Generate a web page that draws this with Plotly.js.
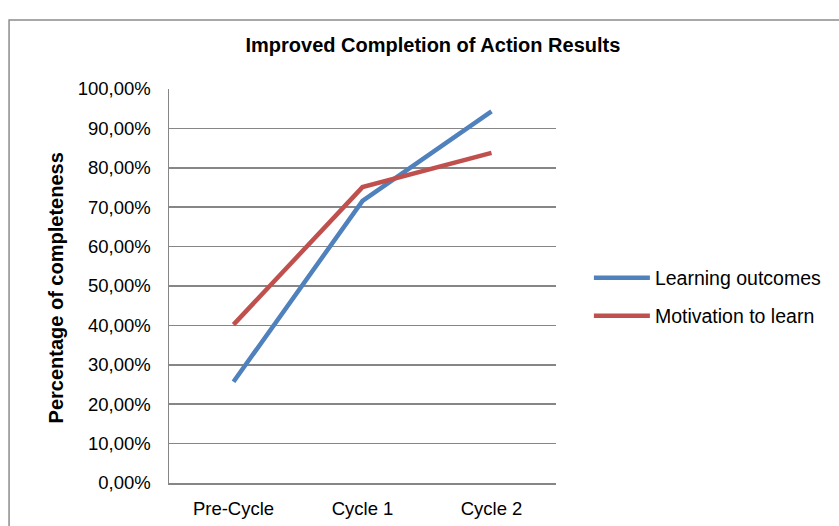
<!DOCTYPE html>
<html>
<head>
<meta charset="utf-8">
<script src="https://cdn.plot.ly/plotly-3.0.1.min.js"></script>
<style>html,body{margin:0;padding:0;background:#fff;}#chart{width:839px;height:526px;}</style>
</head>
<body>
<div id="chart"></div>
<script>
const categories = ["Pre-Cycle", "Cycle 1", "Cycle 2"];
const learningOutcomes = [0.257, 0.716, 0.943];
const motivationToLearn = [0.402, 0.751, 0.838];
const yTickValues = [0, 0.1, 0.2, 0.3, 0.4, 0.5, 0.6, 0.7, 0.8, 0.9, 1.0];

const font = "Liberation Sans, Arial, sans-serif";
const traces = [
  {x: categories, y: learningOutcomes, type: "scatter", mode: "lines", name: "Learning outcomes",
   line: {color: "#4F81BD", width: 4.5}, legend: "legend"},
  {x: categories, y: motivationToLearn, type: "scatter", mode: "lines", name: "Motivation to learn",
   line: {color: "#C0504D", width: 4.5}, legend: "legend2"}
];

const layout = {
  width: 839, height: 526,
  margin: {l: 169, r: 278, t: 89, b: 43},
  paper_bgcolor: "#ffffff", plot_bgcolor: "#ffffff",
  font: {family: font, size: 18, color: "#000"},
  separators: ",.",
  title: {text: "<b>Improved Completion of Action Results</b>", font: {family: font, size: 20, color: "#000"},
          xref: "container", x: 0.516, xanchor: "center", yref: "container", y: 0.914, yanchor: "middle"},
  xaxis: {type: "category", range: [-0.5, 2.5], showgrid: false, zeroline: false,
          showline: true, linecolor: "#868686", linewidth: 1.5, ticks: "", ticklabelstandoff: 8,
          tickfont: {family: font, size: 18.5, color: "#000"}, fixedrange: true},
  yaxis: {range: [0, 1.0], tickvals: yTickValues, tickformat: ".2%", showgrid: true,
          gridcolor: "#868686", gridwidth: 1.5, zeroline: false, showline: true, linecolor: "#868686",
          linewidth: 1.5, ticks: "", ticklabelstandoff: 13,
          tickfont: {family: font, size: 18.5, color: "#000"}, fixedrange: true},
  showlegend: true,
  legend: {x: 1.085, xanchor: "left", y: (483 - 278) / 394, yanchor: "middle", bgcolor: "rgba(0,0,0,0)",
           font: {family: font, size: 19.5, color: "#000"}, itemwidth: 56},
  legend2: {x: 1.085, xanchor: "left", y: (483 - 316) / 394, yanchor: "middle", bgcolor: "rgba(0,0,0,0)",
           font: {family: font, size: 19.5, color: "#000"}, itemwidth: 56},
  annotations: [
    {text: "<b>Percentage of completeness</b>", xref: "paper", yref: "paper",
     x: (55 - 169) / 392, y: (483 - 288) / 394, textangle: -90, showarrow: false,
     font: {family: font, size: 20, color: "#000"}, xanchor: "center", yanchor: "middle"}
  ],
  shapes: [
    {type: "rect", xref: "paper", yref: "paper", x0: (7 - 169) / 392, x1: 2, y0: -0.5, y1: (483 - 20) / 394,
     line: {color: "#8c8c8c", width: 1.5}, fillcolor: "rgba(0,0,0,0)", layer: "below"}
  ]
};

Plotly.newPlot("chart", traces, layout, {displayModeBar: false, staticPlot: true});
</script>
</body>
</html>
